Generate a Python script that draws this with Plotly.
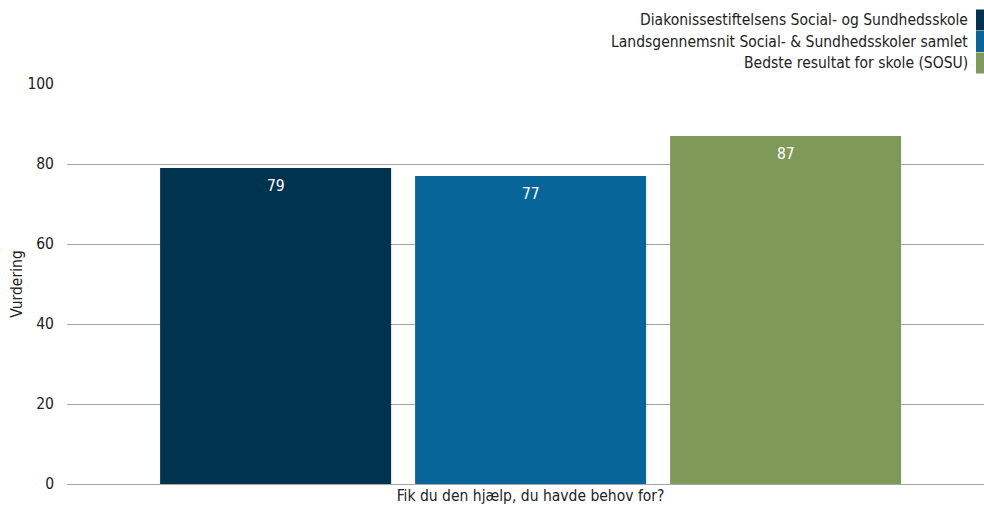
import plotly.graph_objects as go

# data
category = ["Fik du den hjælp, du havde behov for?"]
series_names = [
    "Diakonissestiftelsens Social- og Sundhedsskole",
    "Landsgennemsnit Social- & Sundhedsskoler samlet",
    "Bedste resultat for skole (SOSU)",
]
series_values = [79, 77, 87]
series_colors = ["#003350", "#08659a", "#7f9958"]
y_ticks = [0, 20, 40, 60, 80, 100]

FONT = "DejaVu Sans Condensed"
FS = 15.5
BARGAP = 0.175
GROUPGAP = 0.094

fig = go.Figure()
for name, val, col in zip(series_names, series_values, series_colors):
    fig.add_trace(go.Bar(x=category, y=[val], name=name, marker_color=col,
                         marker_line_width=0, showlegend=False))

# value labels inside the top of each bar
slot = (1 - BARGAP) / len(series_values)
for i, val in enumerate(series_values):
    fig.add_annotation(x=(i - (len(series_values) - 1) / 2) * slot, y=val,
                       xref="x", yref="y", text=str(val), showarrow=False,
                       yanchor="middle", yshift=-18,
                       font=dict(family=FONT, size=FS, color="white"))

# custom legend: right aligned text, swatch on the right
row_offsets = [64, 42.5, 21]
for name, col, off in zip(series_names, series_colors, row_offsets):
    fig.add_annotation(x=1, y=1, xref="paper", yref="paper", text=name,
                       showarrow=False, xanchor="right", yanchor="middle",
                       xshift=-14, yshift=off,
                       font=dict(family=FONT, size=FS, color="#222"))
    fig.add_shape(type="rect", xref="paper", yref="paper",
                  xsizemode="pixel", ysizemode="pixel", xanchor=1, yanchor=1,
                  x0=-8, x1=0, y0=off - 10.5, y1=off + 10.5,
                  fillcolor=col, line_width=0)

fig.update_layout(
    width=984, height=508,
    margin=dict(l=67, r=0, t=84, b=24),
    barmode="group", bargap=BARGAP, bargroupgap=GROUPGAP,
    plot_bgcolor="white", paper_bgcolor="white",
    font=dict(family=FONT, size=FS, color="#222"),
)
fig.update_xaxes(range=[-0.5, 0.489], showgrid=False, ticks="",
                 showline=False, automargin=False, ticklabelstandoff=0)
fig.update_yaxes(range=[0, 100], tickvals=y_ticks, showgrid=True,
                 gridcolor="#a6a6a6", gridwidth=1, zeroline=True,
                 zerolinecolor="#a6a6a6", zerolinewidth=1, automargin=False,
                 ticks="", ticklabelstandoff=12,
                 title=dict(text="Vurdering", standoff=0,
                            font=dict(family=FONT, size=FS)))

# drop the default page margin so the figure fills the window
fig.write_html("out.html", config={"displayModeBar": False},
               post_script="document.body.style.margin='0';"
                           "document.body.style.overflow='hidden';")
